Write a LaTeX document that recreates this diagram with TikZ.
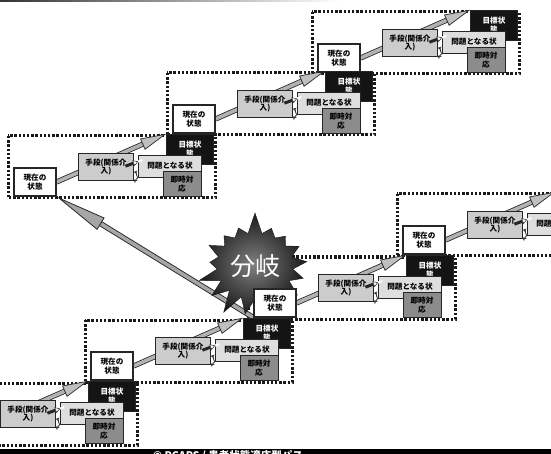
\documentclass[tikz,border=0pt]{standalone}
\usepackage{fontspec}
\newfontfamily\jp{Noto Sans CJK JP}
\usetikzlibrary{arrows.meta, shapes.symbols}
\pgfdeclarelayer{frm}
\pgfdeclarelayer{bg}
\pgfdeclarelayer{mid}
\pgfsetlayers{frm,bg,mid,main}

\begin{document}
\begin{tikzpicture}[
      x=1pt, y=-1pt,
      frame/.style={draw=black!90, line width=3pt, dash pattern=on 2.4pt off 1.8pt},
      box/.style={draw=black!85, align=center, inner sep=1pt, font=\jp\bfseries\fontsize{7.6pt}{8.6pt}\selectfont},
      curbox/.style={box, fill=white, line width=1.2pt, minimum width=42pt, minimum height=28pt},
      toolbox/.style={box, fill=black!20, line width=0.7pt, minimum width=55pt, minimum height=27pt},
      probbox/.style={box, fill=black!13, line width=0.7pt, minimum width=63pt, minimum height=22pt},
      goalbox/.style={box, fill=black!92, text=white, minimum width=47pt, minimum height=30pt},
      nowbox/.style={box, fill=black!45, line width=0.8pt, minimum width=38pt, minimum height=25pt},
      goalar/.style={line width=3.6pt, draw=black!30, -{Triangle[length=26pt, width=12pt, fill=black!25, color=black!85, line width=0.7pt]},
        preaction={draw=black!85, line width=5.2pt, shorten >=24pt, arrows=-}},
      backar/.style={line width=3.6pt, draw=black!35, -{Triangle[length=52pt, width=14pt, fill=black!35, color=black!85, line width=0.8pt]},
        preaction={draw=black!85, line width=5.4pt, shorten >=49pt, arrows=-}},
      hollow/.style={line width=2pt, draw=white, shorten <=-9pt, -{Triangle[length=5pt, width=6pt, fill=white, color=black!85, line width=0.5pt]},
        preaction={draw=black!85, line width=3pt, shorten >=4pt, shorten <=-9pt, arrows=-}},
      fb/.style={draw=black!80, line width=0.8pt, -{Stealth[length=3.5pt, width=4pt]}},
      burst/.style={starburst, starburst points=17, starburst point height=22pt, random starburst=7,
        minimum width=120pt, minimum height=110pt, inner sep=0pt, draw=black!90, line width=0.4pt,
        shading=radial, inner color=black!50, outer color=black!90, text=white, font=\jp\fontsize{25pt}{25pt}\selectfont},
      caption/.style={text=white, inner sep=0pt, font=\jp\bfseries\fontsize{10.5pt}{11pt}\selectfont}
    ]
    \useasboundingbox (0,0) rectangle (551,454);
    \clip (0,0) rectangle (551,454);
    \shade[left color=black!80, right color=white] (0,0) rectangle (340,2);

    \foreach \u/\ox/\oy in {a/312/12, b/167/73, c/8/136, d/397/194, e/248/257, f/85/320, g/-70/383} {
      \begin{scope}[shift={(\ox,\oy)}]
        \begin{pgfonlayer}{frm}
          \draw[frame] (0,0) rectangle (207,62);
        \end{pgfonlayer}
        \node[goalbox] (goal\u) at (182,13) {目標状\\態};
        \node[probbox] (prob\u) at (162,30) {問題となる状};
        \node[nowbox] (now\u) at (174,48) {即時対\\応};
        \node[toolbox] (tool\u) at (98,31) {手段(関係介\\入)};
        \node[curbox] (cur\u) at (27,46) {現在の\\状態};
        \begin{pgfonlayer}{bg}
          \draw[goalar] (cur\u.east) -- (goal\u.north west);
        \end{pgfonlayer}
        \draw[hollow] (tool\u.8) -- (prob\u.172);
        \draw[fb] (prob\u.200) to[out=200, in=-10] (tool\u.-10);
        \draw[fb] (prob\u.south west) to[out=210, in=-45] (tool\u.-24);
      \end{scope}
    }

    \begin{pgfonlayer}{mid}
      \draw[backar] (cure.south west) -- (curc.south east);
      \node[burst] (split) at (255,266) {分岐};
    \end{pgfonlayer}

    \fill[black] (0,449) rectangle (551,454);
    \node[caption, anchor=base west] (credit) at (153,459) {© PCAPS / 患者状態適応型パス};
  \end{tikzpicture}
\end{document}
